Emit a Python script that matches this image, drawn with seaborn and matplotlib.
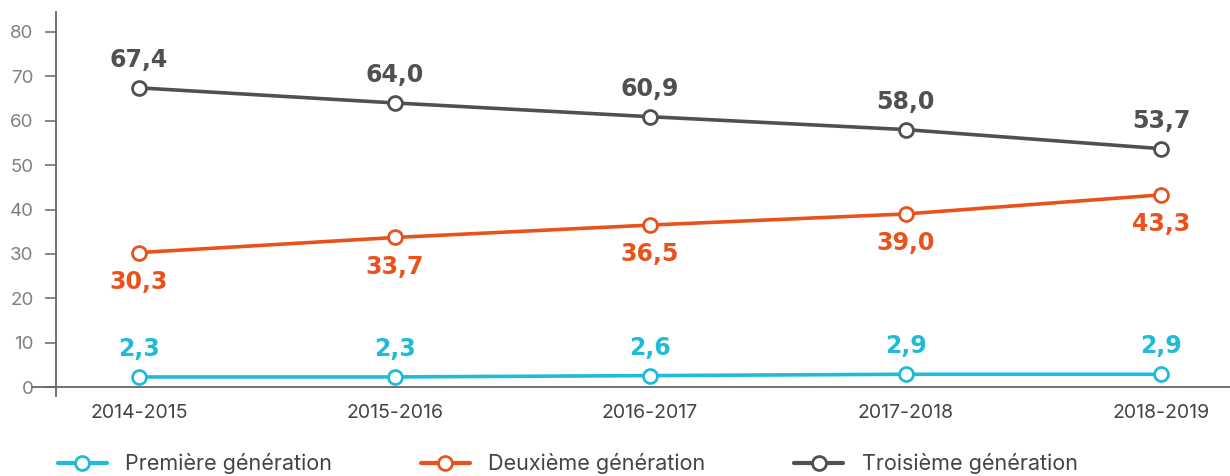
import numpy as np
import pandas as pd
import seaborn as sns
import matplotlib.pyplot as plt
from matplotlib.lines import Line2D

annees = ["2014-2015", "2015-2016", "2016-2017", "2017-2018", "2018-2019"]
premiere = [2.3, 2.3, 2.6, 2.9, 2.9]
deuxieme = [30.3, 33.7, 36.5, 39.0, 43.3]
troisieme = [67.4, 64.0, 60.9, 58.0, 53.7]
series = ["Première génération", "Deuxième génération", "Troisième génération"]
couleurs = ["#20BBD8", "#E9531B", "#505050"]

sns.set_theme(style="white")
plt.rcParams['font.family'] = ['Inter', 'DejaVu Sans']

df = pd.DataFrame({
    "annee": annees * 3,
    "valeur": premiere + deuxieme + troisieme,
    "serie": np.repeat(series, len(annees)),
})

fig = plt.figure(figsize=(12.3, 4.76), dpi=100)
ax = fig.add_axes([0.0455, 0.168, 0.9545, 0.807])

sns.lineplot(data=df, x="annee", y="valeur", hue="serie", palette=couleurs,
             marker="o", markersize=10, markerfacecolor="white",
             markeredgewidth=2, linewidth=2.6, ax=ax, legend=False, sort=False)
for ln, c in zip(ax.get_lines(), couleurs):
    ln.set_markeredgecolor(c)

# etiquettes des valeurs
offsets = [20, -21, 20]
for vals, c, off in zip([premiere, deuxieme, troisieme], couleurs, offsets):
    for i, v in enumerate(vals):
        ax.annotate(f"{v:.1f}".replace(".", ","), (annees[i], v),
                    xytext=(0, off), textcoords="offset points",
                    ha="center", va="center", color=c,
                    fontsize=17, fontweight="bold", family="DejaVu Sans")

ax.set_ylim(-2, 84.5)
ax.set_xlim(-0.325, 4.27)
ax.set_yticks(range(0, 81, 10))
ax.axhline(0, color="#666666", lw=1.3, xmin=-0.02, clip_on=False)
sns.despine(ax=ax, bottom=True)
ax.spines['left'].set_color("#666666")
ax.spines['left'].set_linewidth(1.3)
ax.tick_params(axis="y", length=8, width=1.1, color="#666666",
               labelsize=13.5, labelcolor="#808080", pad=8, left=True)
ax.tick_params(axis="x", length=0, labelsize=14, labelcolor="#444444", pad=6)
ax.set_xlabel("")
ax.set_ylabel("")
ax.grid(False)

handles = [Line2D([0], [0], color=c, lw=3, marker="o", markersize=10,
                  markerfacecolor="white", markeredgecolor=c, markeredgewidth=2)
           for c in couleurs]
fig.legend(handles, series, loc="lower left", bbox_to_anchor=(0.031, -0.037),
           ncol=3, frameon=False, fontsize=15.5, handlelength=2.3,
           columnspacing=4.1, handletextpad=0.85, labelcolor="#444444")

fig.savefig("out.png", dpi=100)
